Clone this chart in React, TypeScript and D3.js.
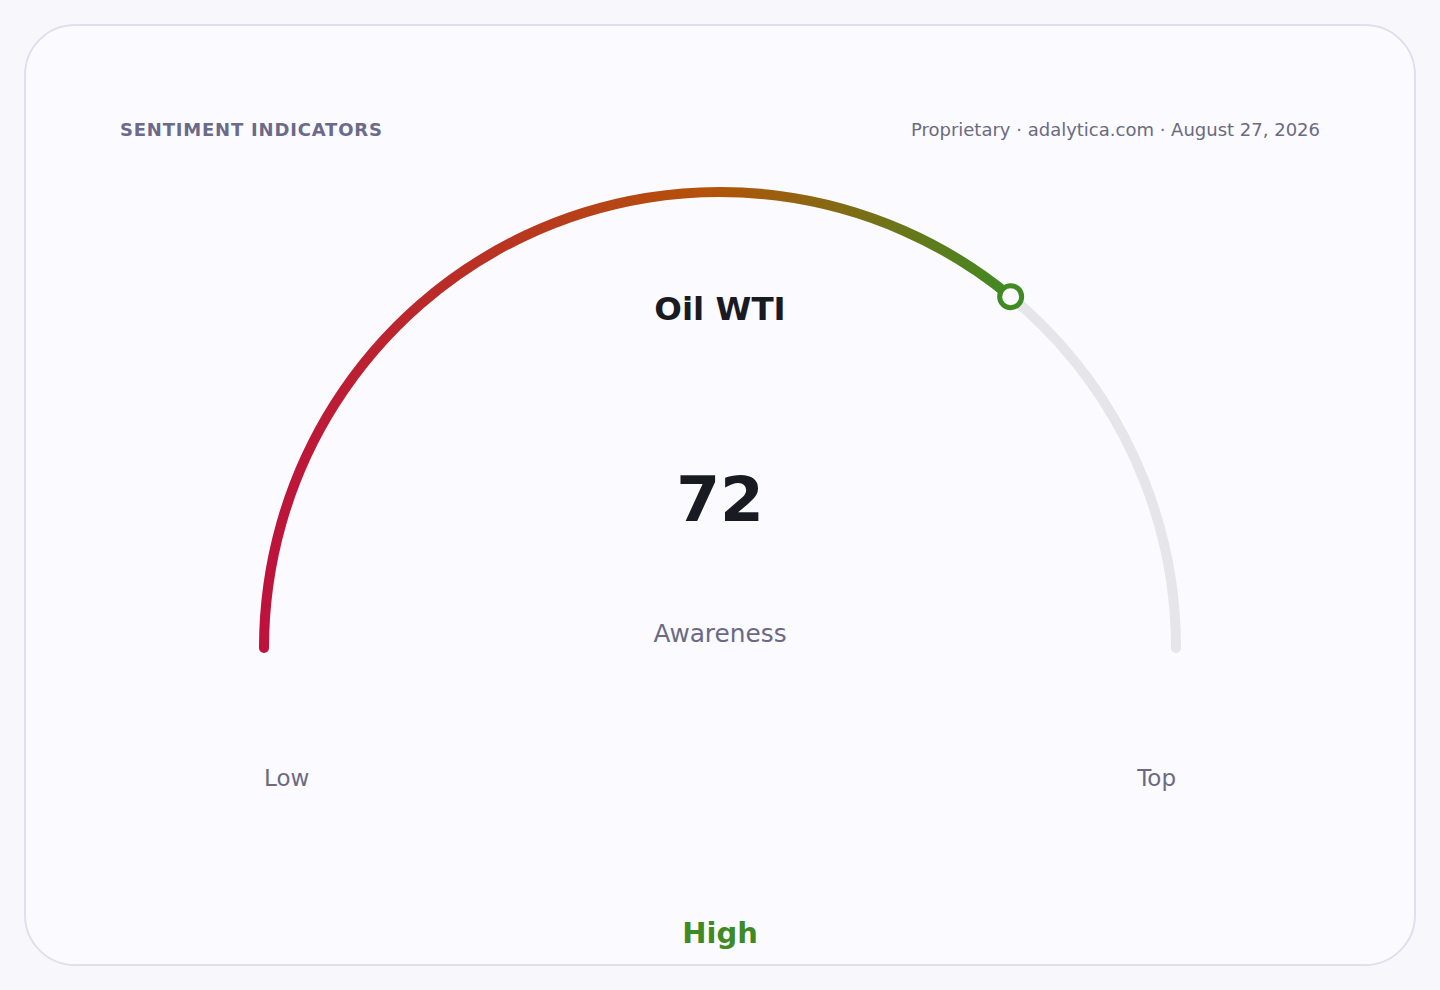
import * as d3 from 'd3';
import React, { useEffect, useRef } from 'react';

// Données du gauge
const gaugeTitle = 'Oil WTI';
const gaugeValue = 72;
const gaugeDomain = [0, 100];
const gaugeMetric = 'Awareness';
const gaugeRating = 'High';
const endLabels = ['Low', 'Top'];
const headerLeft = 'SENTIMENT INDICATORS';
const headerRight = 'Proprietary · adalytica.com · August 27, 2026';
const gradientStops = [
  { offset: 0, color: '#be123c' },
  { offset: 0.6, color: '#b45309' },
  { offset: 1, color: '#3f8a22' },
];

const W = 1440;
const H = 990;
const FONT = '"DejaVu Sans", Verdana, sans-serif';

const App: React.FC = () => {
  const svgRef = useRef<SVGSVGElement | null>(null);

  useEffect(() => {
    if (!svgRef.current) return;
    const svg = d3.select(svgRef.current);
    svg.selectAll('*').remove();

    // Fond + carte
    svg.append('rect').attr('width', W).attr('height', H).attr('fill', '#f8f8fc');
    svg
      .append('rect')
      .attr('x', 25)
      .attr('y', 25)
      .attr('width', 1390)
      .attr('height', 940)
      .attr('rx', 50)
      .attr('fill', '#fafaff')
      .attr('stroke', '#e0e0ec')
      .attr('stroke-width', 2);

    // En-tête
    svg
      .append('text')
      .attr('x', 120)
      .attr('y', 136)
      .attr('font-family', FONT)
      .attr('font-weight', 'bold')
      .attr('font-size', 18)
      .attr('letter-spacing', 0.8)
      .attr('fill', '#6b6a8a')
      .text(headerLeft);
    svg
      .append('text')
      .attr('x', 1320)
      .attr('y', 136)
      .attr('text-anchor', 'end')
      .attr('font-family', FONT)
      .attr('font-size', 18)
      .attr('fill', '#6b6a80')
      .text(headerRight);

    // Géométrie
    const cx = 720;
    const cy = 648;
    const r = 456;
    const angle = d3
      .scaleLinear()
      .domain(gaugeDomain)
      .range([Math.PI, 2 * Math.PI]);

    const arcPath = (a0: number, a1: number) => {
      const p = d3.path();
      p.arc(cx, cy, r, a0, a1, false);
      return p.toString();
    };

    const aVal = angle(gaugeValue);
    const px = cx + r * Math.cos(aVal);
    const py = cy + r * Math.sin(aVal);

    // Dégradé
    const grad = svg
      .append('defs')
      .append('linearGradient')
      .attr('id', 'gaugeGrad')
      .attr('gradientUnits', 'userSpaceOnUse')
      .attr('x1', cx - r)
      .attr('y1', 0)
      .attr('x2', px)
      .attr('y2', 0);
    grad
      .selectAll('stop')
      .data(gradientStops)
      .enter()
      .append('stop')
      .attr('offset', (d) => d.offset)
      .attr('stop-color', (d) => d.color);

    // Piste
    svg
      .append('path')
      .attr('d', arcPath(angle(gaugeDomain[0]), angle(gaugeDomain[1])))
      .attr('fill', 'none')
      .attr('stroke', '#e5e5ea')
      .attr('stroke-width', 10)
      .attr('stroke-linecap', 'round');

    // Valeur
    svg
      .append('path')
      .attr('d', arcPath(angle(gaugeDomain[0]), aVal))
      .attr('fill', 'none')
      .attr('stroke', 'url(#gaugeGrad)')
      .attr('stroke-width', 10)
      .attr('stroke-linecap', 'round');

    // Marqueur
    svg
      .append('circle')
      .attr('cx', px)
      .attr('cy', py)
      .attr('r', 11)
      .attr('fill', '#fafaff')
      .attr('stroke', '#3f8a22')
      .attr('stroke-width', 5);

    // Textes centraux
    svg
      .append('text')
      .attr('x', cx)
      .attr('y', 320)
      .attr('text-anchor', 'middle')
      .attr('font-family', FONT)
      .attr('font-weight', 'bold')
      .attr('font-size', 32.5)
      .attr('fill', '#1a1a22')
      .text(gaugeTitle);
    svg
      .append('text')
      .attr('x', cx)
      .attr('y', 521)
      .attr('text-anchor', 'middle')
      .attr('font-family', FONT)
      .attr('font-weight', 'bold')
      .attr('font-size', 63)
      .attr('fill', '#1a1a22')
      .text(String(gaugeValue));
    svg
      .append('text')
      .attr('x', cx)
      .attr('y', 642)
      .attr('text-anchor', 'middle')
      .attr('font-family', FONT)
      .attr('font-size', 24.8)
      .attr('fill', '#6b6a85')
      .text(gaugeMetric);

    // Extrémités
    svg
      .append('text')
      .attr('x', cx - r)
      .attr('y', 786)
      .attr('font-family', FONT)
      .attr('font-size', 23)
      .attr('fill', '#6b6a80')
      .text(endLabels[0]);
    svg
      .append('text')
      .attr('x', cx + r)
      .attr('y', 786)
      .attr('text-anchor', 'end')
      .attr('font-family', FONT)
      .attr('font-size', 23)
      .attr('fill', '#6b6a80')
      .text(endLabels[1]);

    // Appréciation
    svg
      .append('text')
      .attr('x', cx)
      .attr('y', 943)
      .attr('text-anchor', 'middle')
      .attr('font-family', FONT)
      .attr('font-weight', 'bold')
      .attr('font-size', 29)
      .attr('fill', '#3f8a22')
      .text(gaugeRating);
  }, []);

  return (
    <div style={{ position: 'absolute', left: 0, top: 0, width: W, height: H }}>
      <svg ref={svgRef} width={W} height={H} style={{ display: 'block' }} />
    </div>
  );
};

export default App;
